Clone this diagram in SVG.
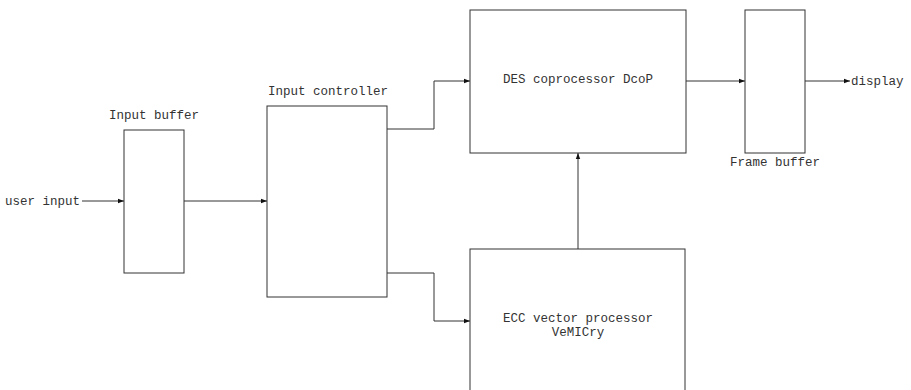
<svg xmlns="http://www.w3.org/2000/svg" width="911" height="390" viewBox="0 0 911 390">
<style>
.box{fill:#fff;stroke:#333;stroke-width:1}
.t{font-family:"Liberation Mono",monospace;font-size:12.5px;fill:#333}
.c{fill:none;stroke:#333;stroke-width:1}
</style>
<defs>
<marker id="a" markerWidth="6" markerHeight="6" refX="6" refY="3" orient="auto" markerUnits="userSpaceOnUse">
<path d="M0,0.8 L6,3 L0,5.2 Z" fill="#111"/>
</marker>
</defs>
<rect width="911" height="390" fill="#fff"/>
<g id="connectors">
<text class="t" x="5" y="205">user input</text>
<path class="c" d="M82,201 H124" marker-end="url(#a)"/>
<path class="c" d="M184,201 H267" marker-end="url(#a)"/>
<path class="c" d="M387,129 H434 V81 H470" marker-end="url(#a)"/>
<path class="c" d="M387,273 H434 V321 H470" marker-end="url(#a)"/>
<path class="c" d="M578,249 V153" marker-end="url(#a)"/>
<path class="c" d="M686,81 H745" marker-end="url(#a)"/>
<path class="c" d="M805,81 H850" marker-end="url(#a)"/>
<text class="t" x="851" y="85">display</text>
</g>
<g id="input-buffer">
<rect class="box" x="124" y="130" width="60" height="143"/>
<text class="t" x="154" y="119" text-anchor="middle">Input buffer</text>
</g>
<g id="input-controller">
<rect class="box" x="267" y="106" width="120" height="191"/>
<text class="t" x="268" y="95">Input controller</text>
</g>
<g id="des">
<rect class="box" x="470" y="10" width="216" height="143"/>
<text class="t" x="578" y="83" text-anchor="middle">DES coprocessor DcoP</text>
</g>
<g id="ecc">
<rect class="box" x="470" y="249" width="215" height="150"/>
<text class="t" x="578" y="322" text-anchor="middle">ECC vector processor</text>
<text class="t" x="578" y="336" text-anchor="middle">VeMICry</text>
</g>
<g id="frame-buffer">
<rect class="box" x="745" y="10" width="60" height="143"/>
<text class="t" x="775" y="166" text-anchor="middle">Frame buffer</text>
</g>
</svg>
